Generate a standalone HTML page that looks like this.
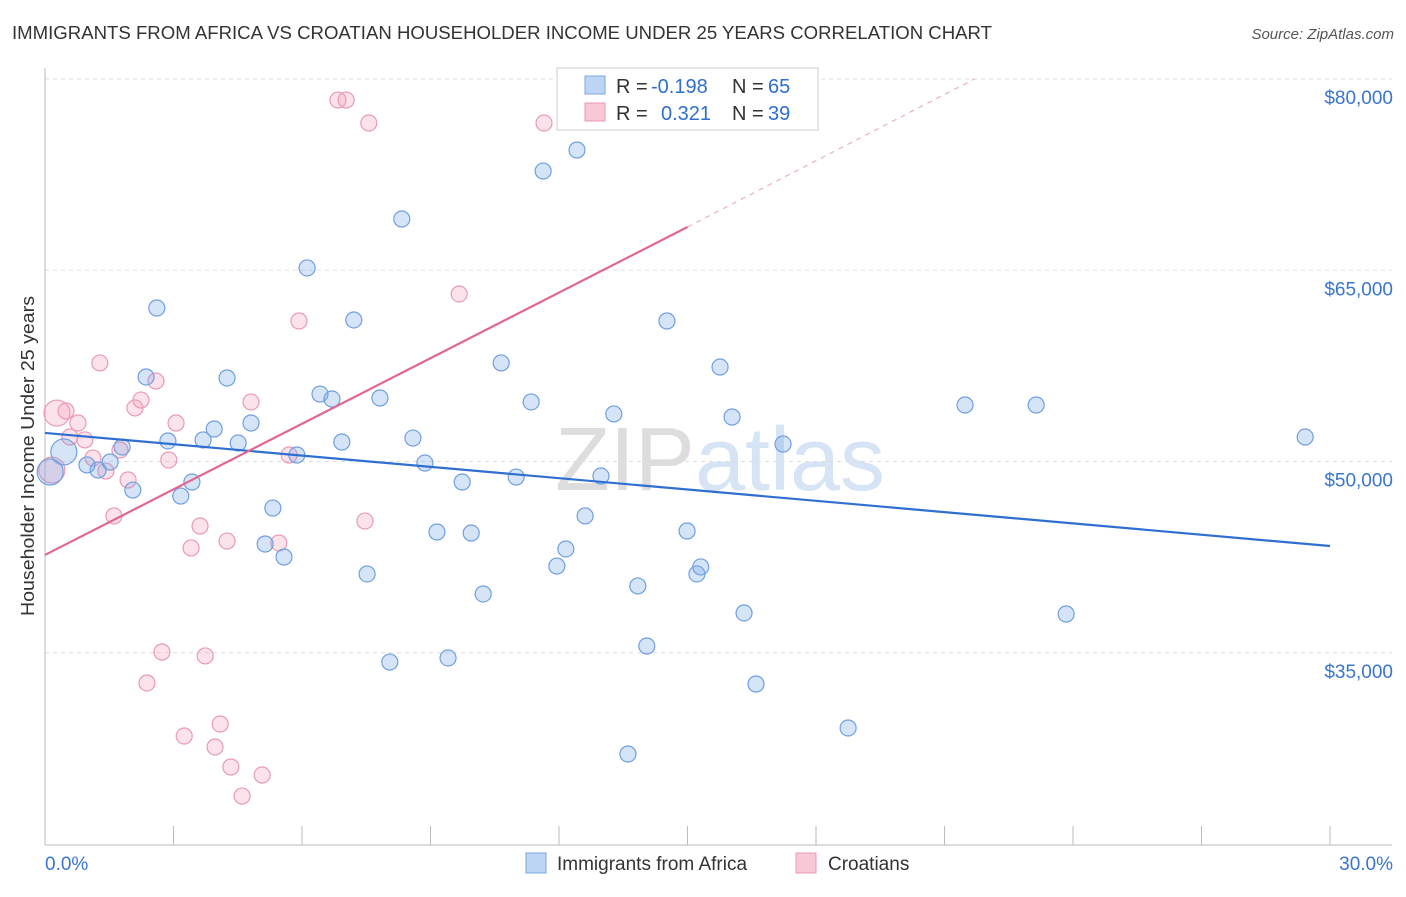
<!DOCTYPE html>
<html><head><meta charset="utf-8"><style>
body{margin:0;background:#fff;font-family:"Liberation Sans",sans-serif;}
svg text{font-family:"Liberation Sans",sans-serif;}
</style></head><body>
<svg id="c" width="1406" height="892" viewBox="0 0 1406 892">
<text x="12" y="39" font-size="18" fill="#333" textLength="980" lengthAdjust="spacingAndGlyphs">IMMIGRANTS FROM AFRICA VS CROATIAN HOUSEHOLDER INCOME UNDER 25 YEARS CORRELATION CHART</text>
<text x="1394" y="39" font-size="15" fill="#555" text-anchor="end" font-style="italic">Source: ZipAtlas.com</text>
<text x="720" y="490" font-size="90" fill="#e4e4e4" text-anchor="middle" font-family="Liberation Serif"><tspan fill="#dddddd">ZIP</tspan><tspan fill="#d6e4f5" font-family="Liberation Sans">atlas</tspan></text>
<text transform="translate(34,456) rotate(-90)" font-size="18" fill="#333" text-anchor="middle" textLength="320" lengthAdjust="spacingAndGlyphs">Householder Income Under 25 years</text>
<g id="grid"></g><g id="marks"></g>
<g>
<rect x="557" y="68" width="261" height="62" fill="#fff" stroke="#ccc"/>
<rect x="585" y="76" width="20" height="18" fill="#bcd5f5" stroke="#7aa6e0"/>
<rect x="585" y="103" width="20" height="18" fill="#f9c8d6" stroke="#e99ab4"/>
<text x="616" y="93" font-size="20" fill="#333">R =</text>
<text x="651" y="93" font-size="20" fill="#2f6fd0">-0.198</text>
<text x="732" y="93" font-size="20" fill="#333">N =</text>
<text x="768" y="93" font-size="20" fill="#2f6fd0">65</text>
<text x="616" y="120" font-size="20" fill="#333">R =</text>
<text x="661" y="120" font-size="20" fill="#2f6fd0">0.321</text>
<text x="732" y="120" font-size="20" fill="#333">N =</text>
<text x="768" y="120" font-size="20" fill="#2f6fd0">39</text>
</g>
<g>
<rect x="526" y="853" width="20" height="20" fill="#bcd5f5" stroke="#7aa6e0"/>
<text x="557" y="870" font-size="19" fill="#333">Immigrants from Africa</text>
<rect x="796" y="853" width="20" height="20" fill="#f9c8d6" stroke="#e99ab4"/>
<text x="828" y="870" font-size="19" fill="#333">Croatians</text>
</g>
</svg>
<script>
const yTicks=[35,50,65,80];
const xTickLabels=["0.0%","30.0%"];
const blueX=[0.12,0.44,0.98,1.24,1.52,1.80,2.05,2.36,2.61,2.87,3.17,3.43,3.69,3.95,4.25,4.51,4.81,5.14,5.32,5.58,5.88,6.12,6.42,6.70,6.93,7.21,7.52,7.82,8.05,8.33,8.59,8.87,9.15,9.41,9.74,9.95,10.23,10.65,11.00,11.35,11.63,11.95,12.16,12.42,12.61,12.98,13.28,13.61,13.84,14.05,14.52,14.99,15.22,15.31,15.76,16.04,16.32,16.60,17.23,18.75,21.48,23.14,23.84,29.42];
const blueY=[49.18,50.75,49.73,49.33,49.96,51.14,47.76,56.63,62.04,51.61,47.29,48.39,51.69,52.55,56.55,51.45,53.02,43.53,46.35,42.51,50.51,65.18,55.29,54.90,51.53,61.10,41.18,54.98,34.27,69.02,51.84,49.88,44.47,34.59,48.39,44.39,39.61,57.73,48.78,54.67,72.78,41.80,43.14,74.43,45.73,48.86,53.73,27.06,40.24,35.53,61.02,44.55,41.18,41.73,57.41,53.49,38.12,32.55,51.37,29.10,54.43,54.43,38.04,51.92];
const pinkX=[0.16,0.28,0.49,0.58,0.77,0.93,1.12,1.28,1.42,1.61,1.75,1.94,2.10,2.24,2.38,2.59,2.73,2.89,3.06,3.25,3.41,3.62,3.74,3.97,4.09,4.25,4.34,4.60,4.81,5.07,5.46,5.70,5.93,6.84,7.03,7.47,7.56,9.67,11.65];
const pinkY=[49.33,53.80,53.96,51.92,53.02,51.69,50.27,57.73,49.25,45.73,50.90,48.55,54.20,54.82,32.63,56.31,35.06,50.12,53.02,28.47,43.22,44.94,34.75,27.61,29.41,43.76,26.04,23.76,54.67,25.41,43.61,50.51,61.02,78.35,78.35,45.33,76.55,63.14,76.55];
const blueTrend=[[0,52.24],[30,43.37]];
const pinkTrend=[[0,42.67],[15,68.39]];
const pinkDash=[[15,68.39],[21.7,80]];
const sx=v=>45+v/30*1285, sy=v=>79+(80-v)*12.75;
const NS="http://www.w3.org/2000/svg";
function mk(t,a,p){const e=document.createElementNS(NS,t);for(const k in a)e.setAttribute(k,a[k]);p.appendChild(e);return e;}
const g=document.getElementById('grid'),m=document.getElementById('marks');
yTicks.forEach(v=>{const l=mk('line',{x1:45,x2:1392,y1:sy(v),y2:sy(v),stroke:'#ddd','stroke-dasharray':'4,4'},g);


const t=mk('text',{x:1393,y:sy(v)+25,'font-size':19,fill:'#3a75d0','text-anchor':'end'},g);t.textContent='$'+v+',000';

});
const ax=mk('line',{x1:45,x2:45,y1:68,y2:845,stroke:'#bbb'},g);


const bx=mk('line',{x1:45,x2:1392,y1:845,y2:845,stroke:'#bbb'},g);


for(let i=0;i<=10;i++){const l=mk('line',{x1:sx(i*3),x2:sx(i*3),y1:826,y2:845,stroke:'#bbb'},g);

}
const t0=mk('text',{x:45,y:870,'font-size':19,fill:'#3a75d0'},g);t0.textContent=xTickLabels[0];


const t1=mk('text',{x:1393,y:870,'font-size':19,fill:'#3a75d0','text-anchor':'end'},g);t1.textContent=xTickLabels[1];


function pts(X,Y,fill,stroke,name,big){X.forEach((x,i)=>{const r=big.includes(i)?13:8;const c=mk('circle',{cx:sx(x),cy:sy(Y[i]),r:r,fill:fill,stroke:stroke,'stroke-width':1.2},m);

});}
pts(pinkX,pinkY,'rgba(245,160,190,0.3)','#e99ab4','croatians-point',[0,1]);
pts(blueX,blueY,'rgba(120,165,230,0.3)','#6f9fe0','africa-point',[0,1]);
function ln(p,col,w,dash,name){const l=mk('line',{x1:sx(p[0][0]),y1:sy(p[0][1]),x2:sx(p[1][0]),y2:sy(p[1][1]),stroke:col,'stroke-width':w},m);if(dash)l.setAttribute('stroke-dasharray',dash);

}
ln(blueTrend,'#2f6fd0',2.2,null,'africa-trend-line');
ln(pinkTrend,'#e06890',2.2,null,'croatians-trend-line');
ln(pinkDash,'#e8a0b8',1,'5,5','croatians-trend-extension');
</script>
</body></html>
